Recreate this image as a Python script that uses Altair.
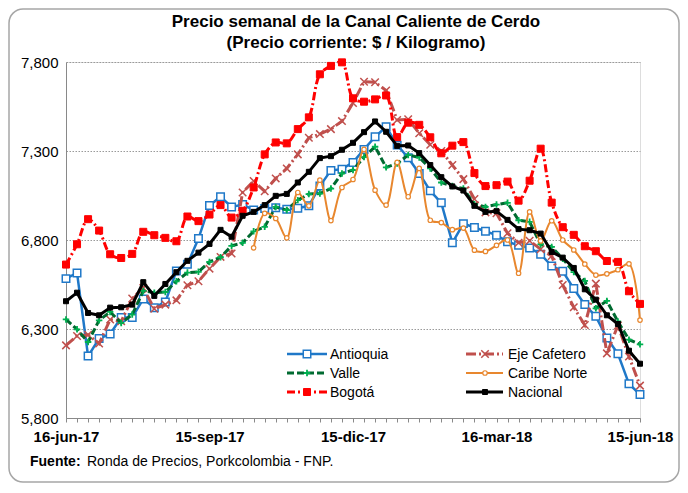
import altair as alt
import pandas as pd

# ---------------- data ----------------
weeks = list(range(53))
tick_weeks = [0, 13, 26, 39, 52]
tick_labels = ["16-jun-17", "15-sep-17", "15-dic-17", "16-mar-18", "15-jun-18"]
y_ticks = [5800, 6300, 6800, 7300, 7800]

title_lines = ["Precio semanal de la Canal Caliente de Cerdo",
               "(Precio corriente: $ / Kilogramo)"]

series_names = ["Antioquia", "Eje Cafetero", "Valle", "Caribe Norte", "Bogotá", "Nacional"]

antioquia = [6583, 6615, 6148, 6246, 6272, 6364, 6364, 6469, 6420, 6452,
             6626, 6664, 6808, 6994, 7043, 6986, 6999, 6969, 6977, 6981,
             6973, 6979, 6992, 7103, 7191, 7198, 7236, 7309, 7380, 7436,
             7333, 7262, 7174, 7076, 7009, 6784, 6892, 6870, 6849, 6827,
             6790, 6770, 6755, 6720, 6654, 6624, 6527, 6437, 6371, 6249,
             6161, 5992, 5932]
eje_cafetero = [6208, 6261, 6268, 6218, 6353, 6343, 6471, 6530, 6414, 6437,
                6461, 6546, 6568, 6639, 6705, 6724, 7067, 7131, 7074, 7146,
                7202, 7281, 7374, 7395, 7423, 7468, 7570, 7689, 7686, 7640,
                7474, 7478, 7400, 7335, 7300, 7221, 7142, 7030, 6955, 6950,
                6838, 6785, 6796, 6748, 6710, 6547, 6422, 6322, 6555, 6163,
                6320, 6145, 5982]
valle = [6354, 6298, 6227, 6349, 6396, 6334, 6381, 6514, 6504, 6508,
         6568, 6617, 6621, 6677, 6703, 6767, 6784, 6849, 6874, 6986,
         6968, 7024, 7058, 7061, 7089, 7174, 7193, 7266, 7324, 7208,
         7230, 7277, 7264, 7202, 7123, 7103, 7089, 7001, 6986, 6999,
         7009, 6911, 6902, 6775, 6761, 6695, 6620, 6570, 6416, 6458,
         6342, 6240, 6214]
caribe_norte = [None] * 17 + [
    6756, 6950, 6921, 6812, 7067, 6992, 7136, 6909, 7095, 7140,
    7309, 7080, 6996, 7236, 7043, 7202, 6911, 6898, 6858, 6867,
    6743, 6736, 6770, 6800, 6613, 6958, 6795, 6908, 6800, 6744,
    6665, 6603, 6610, 6633, 6666, 6350]
bogota = [6662, 6776, 6917, 6853, 6720, 6699, 6722, 6846, 6827, 6812,
          6793, 6932, 6906, 6943, 6996, 6926, 6964, 7095, 7281, 7348,
          7343, 7423, 7489, 7731, 7778, 7798, 7596, 7577, 7590, 7612,
          7378, 7459, 7447, 7377, 7287, 7330, 7350, 7176, 7103, 7108,
          7128, 7021, 7133, 7313, 7010, 6872, 6829, 6765, 6737, 6682,
          6677, 6512, 6441]
nacional = [6456, 6504, 6390, 6377, 6420, 6422, 6437, 6563, 6486, 6553,
            6619, 6683, 6729, 6778, 6857, 6818, 6936, 6958, 6996, 7048,
            7059, 7123, 7183, 7260, 7271, 7307, 7346, 7406, 7466, 7408,
            7329, 7331, 7288, 7221, 7153, 7101, 7078, 6992, 6958, 6962,
            6913, 6861, 6855, 6836, 6733, 6701, 6643, 6523, 6465, 6377,
            6328, 6178, 6105]

all_values = [antioquia, eje_cafetero, valle, caribe_norte, bogota, nacional]

rows = []
for name, vals in zip(series_names, all_values):
    for w, v in zip(weeks, vals):
        if v is not None:
            rows.append({"serie": name, "semana": w, "precio": v})
df = pd.DataFrame(rows)

# ---------------- styles ----------------
FONT = "Liberation Sans"
PLUS = "M-1,0L1,0M0,-1L0,1"
XSHAPE = "M-1,-1L1,1M-1,1L1,-1"

styles = {
    "Antioquia":    dict(color="#1F78C8", width=2.5, dash=None, shape="square", size=56,
                         fill="white", stroke="#1F78C8", sw=1.5, filled=True, interp="linear"),
    "Eje Cafetero": dict(color="#C0504D", width=3, dash=[10, 3, 2, 3], shape=XSHAPE, size=56,
                         fill=None, stroke="#C0504D", sw=1.5, filled=False, interp="linear"),
    "Valle":        dict(color="#006A30", width=3, dash=[7, 3], shape=PLUS, size=42,
                         fill=None, stroke="#00B050", sw=1.8, filled=False, interp="linear"),
    "Caribe Norte": dict(color="#E8872E", width=2, dash=None, shape="circle", size=20,
                         fill="white", stroke="#E8872E", sw=1.2, filled=True, interp="catmull-rom"),
    "Bogotá":       dict(color="#FF0000", width=3, dash=[8, 3, 2, 3], shape="square", size=49,
                         fill="#FF0000", stroke="#FF0000", sw=1, filled=True, interp="catmull-rom"),
    "Nacional":     dict(color="#000000", width=3, dash=None, shape="square", size=25,
                         fill="#000000", stroke="#000000", sw=1, filled=True, interp="linear"),
}

label_expr = " : ".join(
    f"datum.value == {w} ? '{t}'" for w, t in zip(tick_weeks, tick_labels)
) + " : ''"

x_enc = alt.X(
    "semana:Q",
    scale=alt.Scale(domain=[0, 52], nice=False, zero=False),
    axis=alt.Axis(
        values=weeks, labelExpr=label_expr, title=None, grid=False,
        tickSize=4, tickColor="#898989", domainColor="#898989",
        labelFont=FONT, labelFontSize=15, labelFontWeight="bold", labelColor="black",
        labelPadding=7, labelFlush=False, labelOverlap=False,
    ),
)
y_enc = alt.Y(
    "precio:Q",
    scale=alt.Scale(domain=[5800, 7800], nice=False, zero=False),
    axis=alt.Axis(
        values=y_ticks, format=",d", title=None, ticks=False,
        domainColor="#898989", labelFont=FONT, labelFontSize=15, labelColor="black",
        labelPadding=8, gridColor="#9A9A9A", gridDash=[1.5, 1.5], gridWidth=1,
    ),
)

base = alt.Chart(df)
layers = []
for name in series_names:
    s = styles[name]
    sub = base.transform_filter(alt.datum.serie == name)
    line_kw = dict(color=s["color"], strokeWidth=s["width"], interpolate=s["interp"])
    if s["dash"]:
        line_kw["strokeDash"] = s["dash"]
    layers.append(sub.mark_line(**line_kw).encode(x=x_enc, y=y_enc))
    pt_kw = dict(shape=s["shape"], size=s["size"], stroke=s["stroke"],
                 strokeWidth=s["sw"], filled=s["filled"], opacity=1)
    if s["fill"]:
        pt_kw["fill"] = s["fill"]
    layers.append(sub.mark_point(**pt_kw).encode(x=x_enc, y=y_enc))

# ---------------- legend (inside the plot) ----------------
one = pd.DataFrame({"k": [0]})
leg_cols = [(221, 261, 241, 264), (400, 437, 419, 442)]
leg_rows = [292, 311, 330]
for i, name in enumerate(series_names):
    s = styles[name]
    x1, x2, xm, xt = leg_cols[i % 2]
    yy = leg_rows[i // 2]
    rule_kw = dict(color=s["color"], strokeWidth=s["width"])
    if s["dash"]:
        rule_kw["strokeDash"] = s["dash"]
    layers.append(alt.Chart(one).mark_rule(**rule_kw).encode(
        x=alt.value(x1), x2=alt.value(x2), y=alt.value(yy)))
    pt_kw = dict(shape=s["shape"], size=s["size"], stroke=s["stroke"],
                 strokeWidth=s["sw"], filled=s["filled"], opacity=1)
    if s["fill"]:
        pt_kw["fill"] = s["fill"]
    layers.append(alt.Chart(one).mark_point(**pt_kw).encode(
        x=alt.value(xm), y=alt.value(yy)))
    layers.append(alt.Chart(one).mark_text(
        text=name, font=FONT, fontSize=14, color="black", align="left", baseline="middle"
    ).encode(x=alt.value(xt), y=alt.value(yy + 1)))

# ---------------- title (two centred lines) ----------------
for txt, ty in zip(title_lines, [-40, -19]):
    layers.append(alt.Chart(one).mark_text(
        text=txt, font=FONT, fontSize=17, fontWeight="bold", color="black",
        align="center", baseline="middle").encode(x=alt.value(290), y=alt.value(ty)))

# ---------------- source note ----------------
layers.append(alt.Chart(one).mark_text(
    text="Fuente:", font=FONT, fontSize=14, fontWeight="bold", color="black",
    align="left", baseline="middle").encode(x=alt.value(-36), y=alt.value(400)))
layers.append(alt.Chart(one).mark_text(
    text="Ronda de Precios, Porkcolombia - FNP.", font=FONT, fontSize=14, color="black",
    align="left", baseline="middle").encode(x=alt.value(21), y=alt.value(400)))

# ---------------- frame ----------------
layers.append(alt.Chart(one).mark_rect(
    fill=None, stroke="#A6A6A6", strokeWidth=1.5, cornerRadius=14, clip=False
).encode(x=alt.value(-57), x2=alt.value(613), y=alt.value(-53), y2=alt.value(420)))

chart = alt.layer(*layers).properties(
    width=574,
    height=356,
    autosize=alt.AutoSizeParams(type="none"),
    padding={"left": 58, "top": 54, "right": 40, "bottom": 67},
).configure_view(stroke="#A6A6A6", strokeWidth=1).configure(background="white")

chart.save("out.html", embed_options={"renderer": "svg", "actions": False})
